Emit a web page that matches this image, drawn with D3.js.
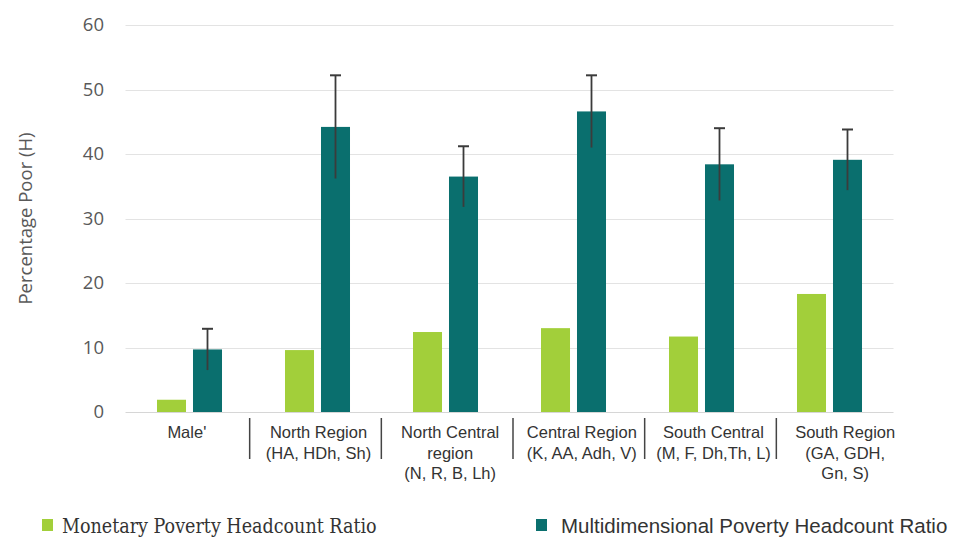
<!DOCTYPE html>
<html>
<head>
<meta charset="utf-8">
<script src="https://cdn.jsdelivr.net/npm/d3@7"></script>
<style>
  body { margin: 0; background: #fff; }
  svg { display: block; }
</style>
</head>
<body>
<script>
const regions = ["Male'", "North Region", "North Central", "Central Region", "South Central", "South Region"];
const regionLabels = [
  ["Male'"],
  ["North Region", "(HA, HDh, Sh)"],
  ["North Central", "region", "(N, R, B, Lh)"],
  ["Central Region", "(K, AA, Adh, V)"],
  ["South Central", "(M, F, Dh,Th, L)"],
  ["South Region", "(GA, GDH,", "Gn, S)"]
];
const monetary = [1.9, 9.6, 12.4, 13.0, 11.7, 18.3];
const multidim = [9.7, 44.2, 36.5, 46.6, 38.4, 39.1];
const multidimErr = [3.2, 8.0, 4.7, 5.6, 5.6, 4.7];
const series = ["Monetary Poverty Headcount Ratio", "Multidimensional Poverty Headcount Ratio"];
const yTicks = [0, 10, 20, 30, 40, 50, 60];

const width = 954,
  height = 540,
  margin = { top: 25, right: 60, bottom: 128, left: 125.5 };

const colors = ["#a2cf3a", "#0a6f6e"];

const svg = d3.select("body")
  .append("svg")
  .attr("width", width)
  .attr("height", height);

const x = d3.scaleBand()
  .domain(regions)
  .range([margin.left, margin.left + 768]);

const inner = d3.scaleBand()
  .domain(series)
  .range([0, x.bandwidth()])
  .paddingInner(0.194)
  .paddingOuter(0.875);

const y = d3.scaleLinear()
  .domain([0, 60])
  .range([height - margin.bottom, margin.top]);

// label table below the plot is a bit wider than the bands
const labelX = d3.scaleBand()
  .domain(regions)
  .range([118, 908]);

// gridlines
svg.append("g")
  .selectAll("line")
  .data(yTicks)
  .join("line")
  .attr("x1", x.range()[0])
  .attr("x2", x.range()[1])
  .attr("y1", d => Math.round(y(d)) + 0.5)
  .attr("y2", d => Math.round(y(d)) + 0.5)
  .attr("stroke", d => d === 0 ? "#d6d6d6" : "#e3e3e3")
  .attr("stroke-width", 1);

// y axis labels
const yAxis = svg.append("g")
  .attr("transform", "translate(104,0)")
  .call(d3.axisLeft(y).tickValues(yTicks).tickSize(0).tickPadding(0));
yAxis.select(".domain").remove();
yAxis.selectAll("text")
  .attr("font-family", "'Open Sans', sans-serif")
  .attr("font-size", 18.5)
  .attr("fill", "#595959");

svg.append("text")
  .attr("transform", `translate(32,${(y(0) + y(60)) / 2}) rotate(-90)`)
  .attr("text-anchor", "middle")
  .attr("font-family", "'Open Sans', sans-serif")
  .attr("font-size", 18.5)
  .attr("fill", "#595959")
  .text("Percentage Poor (H)");

// bars
const rows = regions.map((r, i) => ({ region: r, values: [monetary[i], multidim[i]], err: multidimErr[i] }));

const group = svg.append("g")
  .selectAll("g")
  .data(rows)
  .join("g")
  .attr("transform", d => `translate(${x(d.region)},0)`);

group.selectAll("rect")
  .data(d => d.values.map((v, j) => ({ key: series[j], value: v, j })))
  .join("rect")
  .attr("x", d => inner(d.key))
  .attr("y", d => y(d.value))
  .attr("width", inner.bandwidth())
  .attr("height", d => y(0) - y(d.value))
  .attr("fill", d => colors[d.j]);

// error bars on multidimensional series
const err = group.append("g")
  .attr("transform", d => `translate(${inner(series[1]) + inner.bandwidth() / 2},0)`);

err.append("line")
  .attr("y1", d => y(d.values[1] - d.err))
  .attr("y2", d => y(d.values[1] + d.err))
  .attr("stroke", "#3b3b3b")
  .attr("stroke-width", 1.8);

err.append("line")
  .attr("x1", -5.5)
  .attr("x2", 5.5)
  .attr("y1", d => y(d.values[1] + d.err))
  .attr("y2", d => y(d.values[1] + d.err))
  .attr("stroke", "#3b3b3b")
  .attr("stroke-width", 2);

// category label table
const lab = svg.append("g")
  .selectAll("g")
  .data(regions)
  .join("g")
  .attr("transform", d => `translate(${labelX(d) + labelX.bandwidth() / 2 + 3},0)`);

lab.append("text")
  .attr("text-anchor", "middle")
  .attr("font-family", "'Liberation Sans', Arial, sans-serif")
  .attr("font-size", 16.5)
  .attr("fill", "#333")
  .selectAll("tspan")
  .data((d, i) => regionLabels[i])
  .join("tspan")
  .attr("x", 0)
  .attr("y", (d, i) => 438 + i * 20.5)
  .text(d => d);

svg.append("g")
  .selectAll("line")
  .data(regions.slice(1))
  .join("line")
  .attr("x1", d => labelX(d))
  .attr("x2", d => labelX(d))
  .attr("y1", 418)
  .attr("y2", 459)
  .attr("stroke", "#444")
  .attr("stroke-width", 1.5);

// legend
const legendPos = [{ x: 42, font: "'DejaVu Serif Condensed', 'DejaVu Serif', serif", size: 19.5, tx: 62 },
                   { x: 536, font: "'Liberation Sans', Arial, sans-serif", size: 20.5, tx: 561 }];

const legend = svg.append("g")
  .selectAll("g")
  .data(series)
  .join("g")
  .attr("transform", (d, i) => `translate(${legendPos[i].x},519)`);

legend.append("rect")
  .attr("width", 11)
  .attr("height", 12)
  .attr("y", 0)
  .attr("fill", (d, i) => colors[i]);

legend.append("text")
  .attr("x", (d, i) => legendPos[i].tx - legendPos[i].x)
  .attr("y", 14)
  .attr("font-family", (d, i) => legendPos[i].font)
  .attr("font-size", (d, i) => legendPos[i].size)
  .attr("fill", "#333")
  .text(d => d);
</script>
</body>
</html>
